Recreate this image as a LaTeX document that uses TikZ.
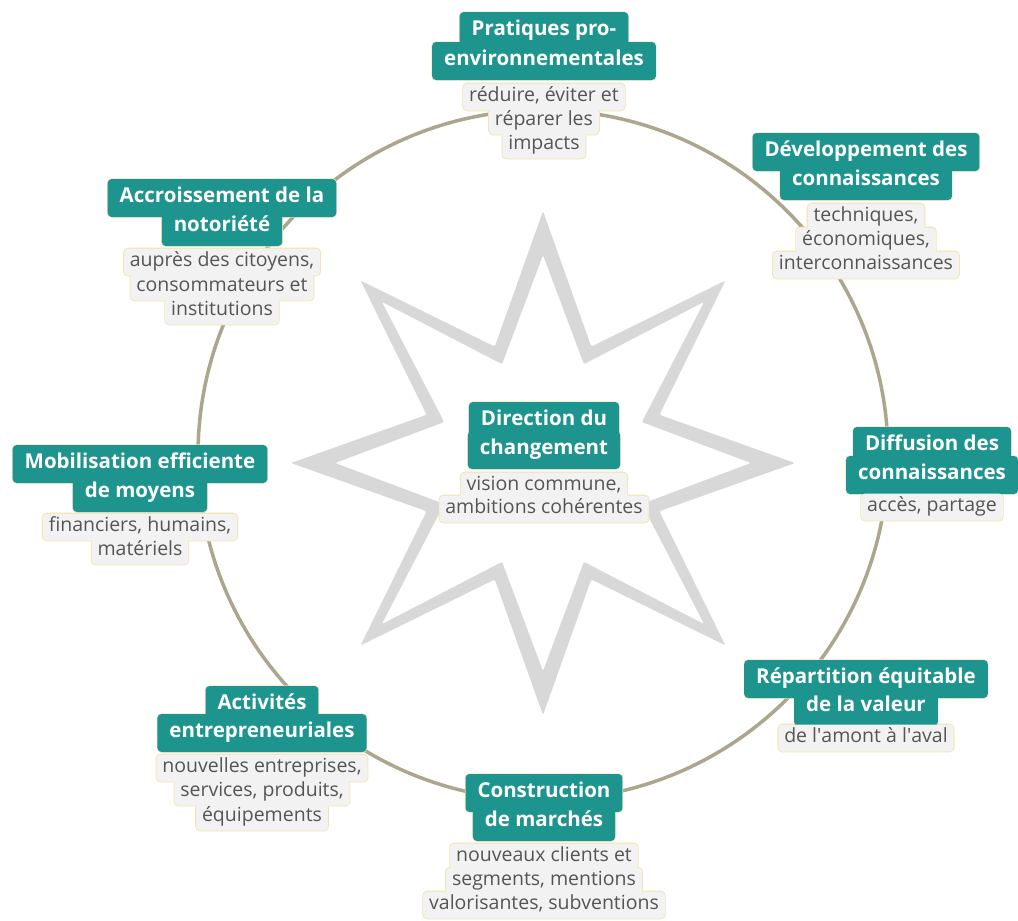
\documentclass[tikz,border=0pt]{standalone}
\usepackage{fontspec}
\setmainfont{Open Sans}
\definecolor{teal1}{RGB}{30,148,142}
\definecolor{bodyfill}{RGB}{242,242,242}
\definecolor{bodytext}{RGB}{85,85,85}
\definecolor{bordc}{RGB}{240,228,170}
\definecolor{tbordc}{RGB}{236,230,196}
\definecolor{ringc}{RGB}{172,166,142}
\definecolor{starc}{RGB}{216,216,216}
\pgfdeclarelayer{bg}
\pgfsetlayers{bg,main}
\begin{document}
\begin{tikzpicture}[x=1pt,y=-1pt,
 ttl/.style={fill=teal1, text=white, font=\fontsize{20.5}{22}\selectfont\bfseries, inner xsep=12pt, inner ysep=0pt, minimum height=38pt, text height=14pt, text depth=4.5pt, rounded corners=4pt, outer sep=0pt},
 bdy/.style={fill=bodyfill, text=bodytext, font=\fontsize{19.5}{21}\selectfont, inner xsep=6pt, inner ysep=0pt, minimum height=27pt, text height=14pt, text depth=4.5pt, rounded corners=4pt, outer sep=0pt},
 tb/.style={draw=tbordc, line width=1.4pt, rounded corners=4pt},
 bb/.style={draw=bordc, line width=1.6pt, rounded corners=4pt}]
\useasboundingbox (0,0) rectangle (1018,921);
\begin{pgfonlayer}{bg}
\fill[white] (0,0) rectangle (1018,921);
\draw[ringc, line width=3.5pt] (543,455) circle[radius=345];
\fill[starc, even odd rule, rounded corners=2pt, shift={(543,463)}]
 (90:252) -- (112.5:126) -- (135:258) -- (157.5:126) -- (180:252) -- (202.5:126) -- (225:258) -- (247.5:126) --
 (270:252) -- (292.5:126) -- (315:258) -- (337.5:126) -- (0:252) -- (22.5:126) -- (45:258) -- (67.5:126) -- cycle
 (90:208) -- (112.5:107) -- (135:228) -- (157.5:107) -- (180:208) -- (202.5:107) -- (225:228) -- (247.5:107) --
 (270:208) -- (292.5:107) -- (315:228) -- (337.5:107) -- (0:208) -- (22.5:107) -- (45:228) -- (67.5:107) -- cycle;
\end{pgfonlayer}

% G1
\node[ttl] (g1t1) at (544,31) {Pratiques pro-};
\node[ttl] (g1t2) at (544,61) {environnementales};
\node[bdy] (g1b1) at (544,97) {réduire, éviter et};
\node[bdy] (g1b2) at (544,121) {réparer les};
\node[bdy] (g1b3) at (544,145) {impacts};
% G2
\node[ttl] (g2t1) at (866,152) {Développement des};
\node[ttl] (g2t2) at (866,181) {connaissances};
\node[bdy] (g2b1) at (866,217) {techniques,};
\node[bdy] (g2b2) at (866,241) {économiques,};
\node[bdy] (g2b3) at (866,265) {interconnaissances};
% G3
\node[ttl] (g3t1) at (932,446) {Diffusion des};
\node[ttl] (g3t2) at (932,475) {connaissances};
\node[bdy] (g3b1) at (932,507) {accès, partage};
% G4
\node[ttl] (g4t1) at (866,679) {Répartition équitable};
\node[ttl] (g4t2) at (866,707) {de la valeur};
\node[bdy] (g4b1) at (866,738) {de l\textquotesingle amont à l\textquotesingle aval};
% G5
\node[ttl] (g5t1) at (544,793) {Construction};
\node[ttl] (g5t2) at (544,822) {de marchés};
\node[bdy] (g5b1) at (544,857) {nouveaux clients et};
\node[bdy] (g5b2) at (544,881) {segments, mentions};
\node[bdy] (g5b3) at (544,905) {valorisantes, subventions};
% G6
\node[ttl] (g6t1) at (262,705) {Activités};
\node[ttl] (g6t2) at (262,733) {entrepreneuriales};
\node[bdy] (g6b1) at (262,768) {nouvelles entreprises,};
\node[bdy] (g6b2) at (262,792) {services, produits,};
\node[bdy] (g6b3) at (262,817) {équipements};
% G7
\node[ttl] (g7t1) at (140,464) {Mobilisation efficiente};
\node[ttl] (g7t2) at (140,493) {de moyens};
\node[bdy] (g7b1) at (140,527) {financiers, humains,};
\node[bdy] (g7b2) at (140,551) {matériels};
% G8
\node[ttl] (g8t1) at (222,198) {Accroissement de la};
\node[ttl] (g8t2) at (222,227) {notoriété};
\node[bdy] (g8b1) at (222,262) {auprès des citoyens,};
\node[bdy] (g8b2) at (222,287) {consommateurs et};
\node[bdy] (g8b3) at (222,311) {institutions};
% G9
\node[ttl] (g9t1) at (544,421) {Direction du};
\node[ttl] (g9t2) at (544,450) {changement};
\node[bdy] (g9b1) at (544,486) {vision commune,};
\node[bdy] (g9b2) at (544,509) {ambitions cohérentes};

\begin{pgfonlayer}{bg}
\foreach \n in {g1t1,g1t2,g2t1,g2t2,g3t1,g3t2,g4t1,g4t2,g5t1,g5t2,g6t1,g6t2,g7t1,g7t2,g8t1,g8t2,g9t1,g9t2}
  \draw[tb] (\n.south west) rectangle (\n.north east);
\foreach \n in {g1b1,g1b2,g1b3,g2b1,g2b2,g2b3,g3b1,g4b1,g5b1,g5b2,g5b3,g6b1,g6b2,g6b3,g7b1,g7b2,g8b1,g8b2,g8b3,g9b1,g9b2}
  \draw[bb] (\n.south west) rectangle (\n.north east);
\end{pgfonlayer}
\end{tikzpicture}
\end{document}
